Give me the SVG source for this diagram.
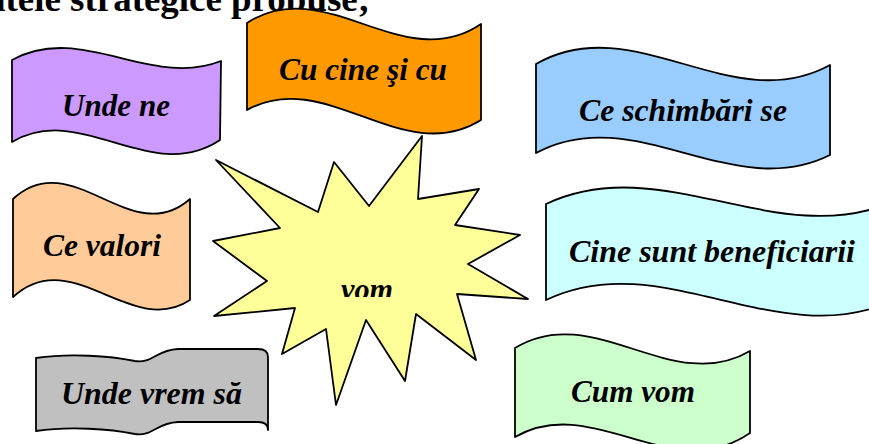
<svg xmlns="http://www.w3.org/2000/svg" width="869" height="444" viewBox="0 0 869 444">
<style>
.b{stroke:#000;stroke-width:1.8;stroke-linejoin:round}
.t{font-family:"Liberation Serif","Times New Roman",serif;font-weight:bold;font-style:italic;font-size:31px;fill:#000}
.title{font-family:"Liberation Serif","Times New Roman",serif;font-weight:bold;font-size:36px;fill:#000}
</style>
<defs>
<clipPath id="vomClip"><rect x="300" y="270" width="120" height="27"/></clipPath>
</defs>
<rect width="869" height="444" fill="#fff"/>
<g id="title">
<text class="title" x="-15" y="11" textLength="385" lengthAdjust="spacingAndGlyphs">ntele strategice propuse;</text>
</g>
<g id="star">
<polygon class="b" fill="#FFFF99" points="216,160 318,212 334,162 369,206 422,136 418,199 479,189 455,225 520,235 468,264 528,299 457,294 476,360 416,314 405,381 366,320 336,405 326,329 282,354 295,308 214,316 267,281 213,241 280,228"/>
<text class="t" x="341" y="300" textLength="52" lengthAdjust="spacingAndGlyphs" clip-path="url(#vomClip)">vom</text>
</g>
<g id="unde-ne">
<path class="b" fill="#CC99FF" d="M12,60 C81,22 151,89 221,61 L220,140 C151,186 81,101 12,142 Z"/>
<text class="t" x="62" y="116" textLength="108" lengthAdjust="spacingAndGlyphs">Unde ne</text>
</g>
<g id="cu-cine">
<path class="b" fill="#FF9900" d="M247,23 C325,-28 403,77 481,24 L481,120 C403,169 325,66 247,110 Z"/>
<text class="t" x="279" y="80" textLength="168" lengthAdjust="spacingAndGlyphs">Cu cine şi cu</text>
</g>
<g id="ce-schimbari">
<path class="b" fill="#99CCFF" d="M536,64 C634,8 732,119 830,65 L830,155 C732,204 634,100 536,153 Z"/>
<text class="t" x="579" y="121" textLength="208" lengthAdjust="spacingAndGlyphs">Ce schimbări se</text>
</g>
<g id="ce-valori">
<path class="b" fill="#FFCC99" d="M13,199 C72,144 131,251 190,199 L190,300 C131,339 72,243 13,297 Z"/>
<text class="t" x="43" y="256" textLength="118" lengthAdjust="spacingAndGlyphs">Ce valori</text>
</g>
<g id="cine-sunt">
<path class="b" fill="#CCFFFF" d="M546,204 C661,150 775,250 890,203 L890,302 C775,352 661,245 546,300 Z"/>
<text class="t" x="569" y="262" textLength="286" lengthAdjust="spacingAndGlyphs">Cine sunt beneficiarii</text>
</g>
<g id="unde-vrem">
<path class="b" fill="#C0C0C0" stroke="#333" d="M36,358 C70,353 110,356 135,361 C152,364 156,350 178,349 L258,349 Q268,349 268,357 L268,430 Q268,422 258,422 L178,422 C156,423 152,437 135,434 C110,429 70,426 36,431 Z"/>
<text class="t" x="61" y="404" textLength="181" lengthAdjust="spacingAndGlyphs">Unde vrem să</text>
</g>
<g id="cum-vom">
<path class="b" fill="#CCFFCC" d="M515,348 C593,300 672,397 750,351 L750,433 C672,487 593,392 515,437 Z"/>
<text class="t" x="571" y="402" textLength="124" lengthAdjust="spacingAndGlyphs">Cum vom</text>
</g>
</svg>
